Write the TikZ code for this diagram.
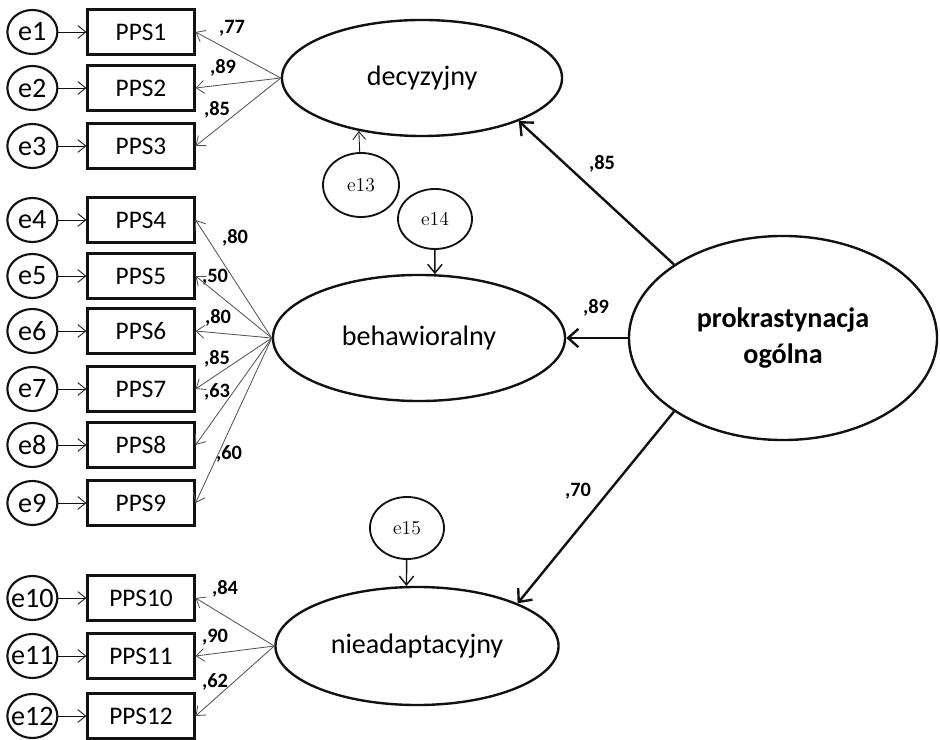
\documentclass[tikz,border=0pt]{standalone}
\usepackage{fontspec}
\setsansfont{Carlito}
\usetikzlibrary{arrows.meta,positioning,shapes.geometric}
\definecolor{ink}{HTML}{111111}
\definecolor{wire}{HTML}{555555}
\tikzset{
  base/.style={font=\sffamily\fontsize{18}{20}\selectfont,draw=ink,line width=1.5pt,inner sep=0pt},
  item/.style={base,rectangle,minimum width=2.675cm,minimum height=1.125cm},
  err/.style={base,ellipse,minimum width=1.25cm,minimum height=1.1cm,font=\sffamily\fontsize{20}{22}\selectfont},
  dist/.style={base,ellipse,line width=1.3pt,font=\rmfamily\fontsize{14}{16}\selectfont},
  factor/.style={base,ellipse,line width=1.7pt,font=\sffamily\fontsize{20}{22}\selectfont},
  general/.style={factor,align=center,font=\sffamily\bfseries\fontsize{20}{25}\selectfont},
  coef/.style={font=\sffamily\bfseries\fontsize{14.5}{16}\selectfont,inner sep=0pt},
  pathcoef/.style={coef},
  load/.style={-{Straight Barb[length=2mm,width=3.2mm]},draw=wire,line width=0.6pt},
  noise/.style={load,draw=ink},
  resid/.style={-{Straight Barb[length=2.2mm,width=3.6mm]},draw=ink,line width=1pt},
  flow/.style={-{Straight Barb[length=2.6mm,width=4.6mm]},draw=ink,line width=1.7pt}
}
\begin{document}
\begin{tikzpicture}[x=0.025cm,y=-0.025cm]
\useasboundingbox (0,0) rectangle (940,740);

% observed items
\node[item] (p1) at (141,32) {PPS1};
\node[item] (p2) at (141,88) {PPS2};
\node[item] (p3) at (141,146) {PPS3};
\node[item] (p4) at (141,220) {PPS4};
\node[item] (p5) at (141,276) {PPS5};
\node[item] (p6) at (141,331) {PPS6};
\node[item] (p7) at (141,389) {PPS7};
\node[item] (p8) at (141,445) {PPS8};
\node[item] (p9) at (141,503) {PPS9};
\node[item] (p10) at (141,598) {PPS10};
\node[item] (p11) at (141,656) {PPS11};
\node[item] (p12) at (141,716) {PPS12};

% item errors
\node[err,left=7mm of p1] (e1) {e1};
\node[err,left=7mm of p2] (e2) {e2};
\node[err,left=7mm of p3] (e3) {e3};
\node[err,left=7mm of p4] (e4) {e4};
\node[err,left=7mm of p5] (e5) {e5};
\node[err,left=7mm of p6] (e6) {e6};
\node[err,left=7mm of p7] (e7) {e7};
\node[err,left=7mm of p8] (e8) {e8};
\node[err,left=7mm of p9] (e9) {e9};
\node[err,left=7mm of p10] (e10) {\makebox[0pt]{e10}};
\node[err,left=7mm of p11] (e11) {\makebox[0pt]{e11}};
\node[err,left=7mm of p12] (e12) {\makebox[0pt]{e12}};

% latent factors
\node[factor,minimum width=7cm,minimum height=2.9cm] (decy) at (422,78) {decyzyjny};
\node[factor,minimum width=7.3cm,minimum height=3.15cm] (beh) at (419,338) {behawioralny};
\node[factor,minimum width=7.075cm,minimum height=2.95cm] (nie) at (417,646) {nieadaptacyjny};
\node[general,minimum width=7.7cm,minimum height=5.1cm] (prok) at (783,338) {prokrastynacja\\ogólna};

% factor disturbances
\node[dist,minimum width=1.9cm,minimum height=1.6cm] (e13) at (361,185) {e13};
\node[dist,minimum width=1.85cm,minimum height=1.5cm] (e14) at (435,219) {e14};
\node[dist,minimum width=1.85cm,minimum height=1.55cm] (e15) at (407,528) {e15};

% loadings
\node[coef] (l1) at (232,28) {,77};
\node[coef] (l2) at (223,68) {,89};
\node[coef] (l3) at (217,110) {,85};
\node[coef] (l4) at (235,238) {,80};
\node[coef] (l5) at (215,277) {,50};
\node[coef] (l6) at (218,318) {,80};
\node[coef] (l7) at (217,359) {,85};
\node[coef] (l8) at (217,392) {,63};
\node[coef] (l9) at (229,454) {,60};
\node[coef] (l10) at (225,589) {,84};
\node[coef] (l11) at (215,637) {,90};
\node[coef] (l12) at (215,682) {,62};
\node[pathcoef] (g1) at (602,164) {,85};
\node[pathcoef] (g2) at (596,308) {,89};
\node[pathcoef] (g3) at (578,491) {,70};

\draw[noise] (e1) -- (p1);
\draw[noise] (e2) -- (p2);
\draw[noise] (e3) -- (p3);
\draw[noise] (e4) -- (p4);
\draw[noise] (e5) -- (p5);
\draw[noise] (e6) -- (p6);
\draw[noise] (e7) -- (p7);
\draw[noise] (e8) -- (p8);
\draw[noise] (e9) -- (p9);
\draw[noise] (e10) -- (p10);
\draw[noise] (e11) -- (p11);
\draw[noise] (e12) -- (p12);

\draw[load] (decy.west) -- (p1.east);
\draw[load] (decy.west) -- (p2.east);
\draw[load] (decy.west) -- (p3.east);
\draw[load] (beh.west) -- (p4.east);
\draw[load] (beh.west) -- (p5.east);
\draw[load] (beh.west) -- (p6.east);
\draw[load] (beh.west) -- (p7.east);
\draw[load] (beh.west) -- (p8.east);
\draw[load] (beh.west) -- (p9.east);
\draw[load] (nie.west) -- (p10.east);
\draw[load] (nie.west) -- (p11.east);
\draw[load] (nie.west) -- (p12.east);

\draw[noise] (e13) -- (decy.220);
\draw[resid] (e14) -- (beh.76);
\draw[resid] (e15) -- (nie.100);

\draw[flow] (prok.146) -- (decy.336);
\draw[flow] (prok) -- (beh);
\draw[flow] (prok.214) -- (nie.23);
\end{tikzpicture}
\end{document}
